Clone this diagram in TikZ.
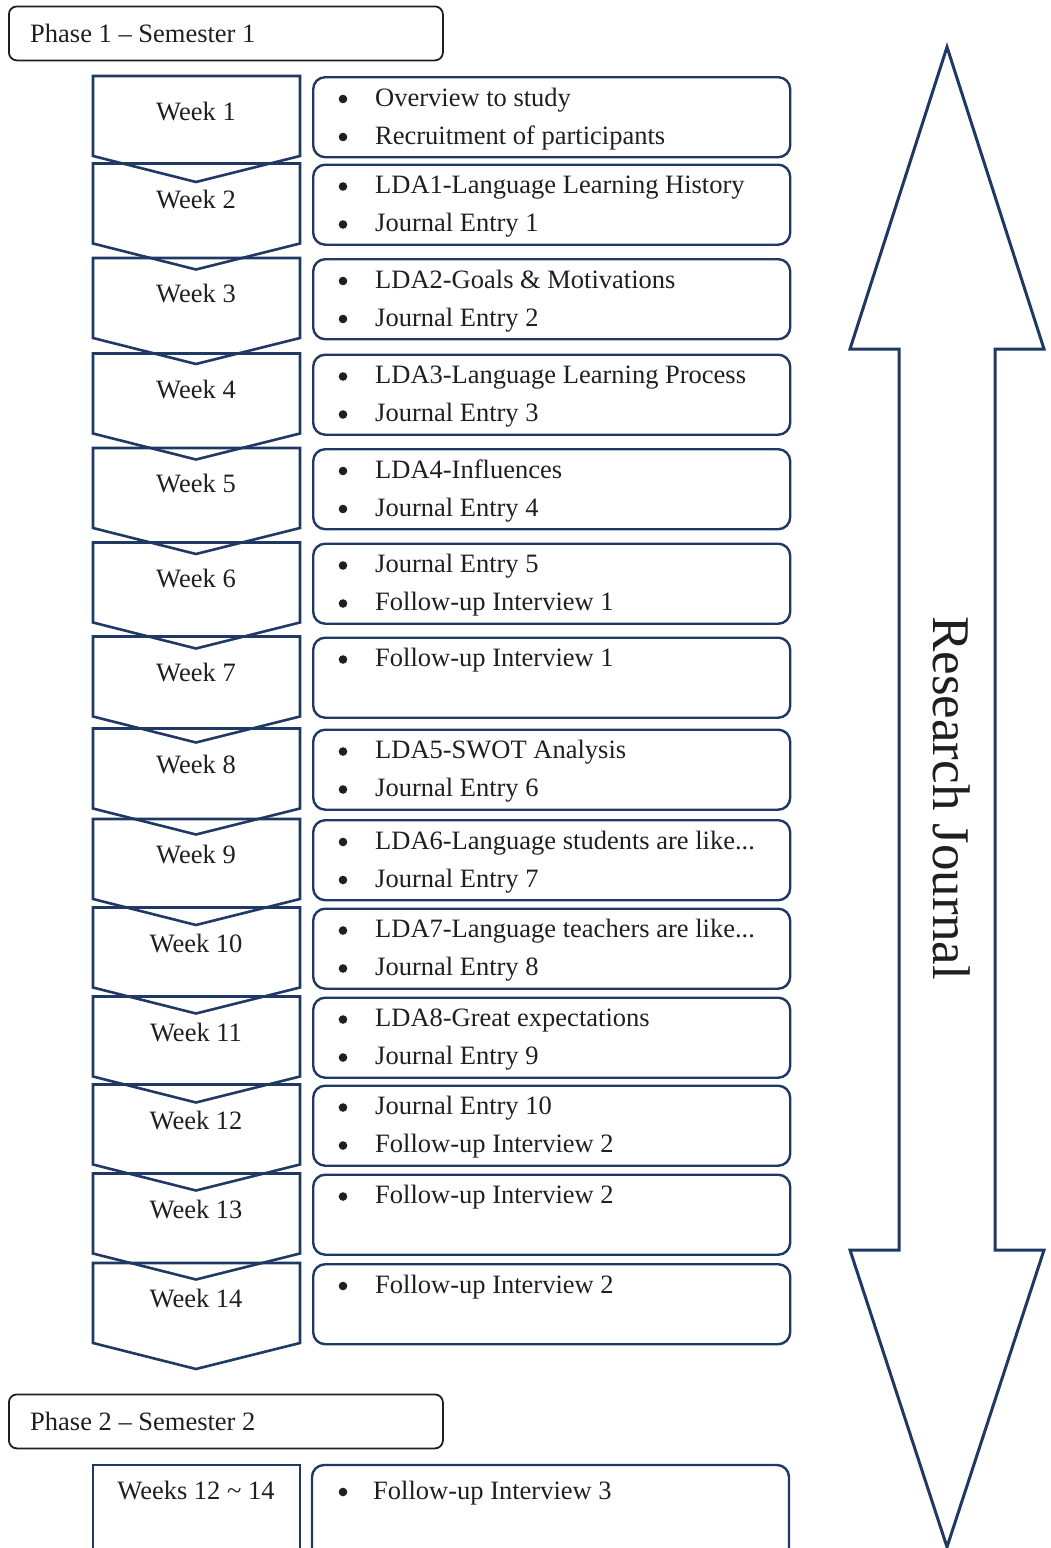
\documentclass[tikz,border=0pt]{standalone}
\usepackage{fontspec}
\setmainfont{Liberation Serif}
\definecolor{navy}{RGB}{31,56,100}
\definecolor{ink}{RGB}{34,30,31}
\newcommand\weekrow[5]{%
  \draw[chev] (93,#2) -- (300,#2) -- (300,{#2+80}) -- (196,{#2+106}) -- (93,{#2+80}) -- cycle;
  \node[tbox, anchor=north west] (box#1) at (312,#2) {};
  \node[txt, anchor=base] (wk#1) at (196,{#2+44.5}) {#3};
  \fill[ink] (343,{#2+23}) circle (4.3);
  \node[txt, anchor=base west] (la#1) at (375,{#2+30}) {#4};
  \ifx\relax#5\relax\else
    \fill[ink] (343,{#2+61}) circle (4.3);
    \node[txt, anchor=base west] (lb#1) at (375,{#2+68}) {#5};
  \fi}
\begin{document}
\begin{tikzpicture}[x=1pt,y=-1pt,
  chev/.style={draw=navy,line width=2.6pt,line join=miter},
  tbox/.style={draw=navy,line width=2.4pt,rounded corners=12pt,minimum width=477pt,minimum height=80pt,inner sep=0pt},
  pbox/.style={draw=ink,line width=1.8pt,rounded corners=8pt,minimum width=434pt,minimum height=54pt,inner sep=0pt},
  txt/.style={font=\fontsize{26.5}{31}\selectfont,text=ink,inner sep=0pt},
  bigtxt/.style={font=\fontsize{53}{60}\selectfont,text=ink,inner sep=0pt},
  arrowshape/.style={draw=navy,line width=3pt,line join=miter}]
\useasboundingbox (0,0) rectangle (1051,1548);

% Phase 1 header
\node[pbox, anchor=north west] (ph1) at (8,5.5) {};
\node[txt, anchor=base west] (ph1t) at (30,42.5) {Phase 1 – Semester 1};

\weekrow{1}{76}{Week 1}{Overview to study}{Recruitment of participants}
\weekrow{2}{163.5}{Week 2}{LDA1-Language Learning History}{Journal Entry 1}
\weekrow{3}{258}{Week 3}{LDA2-Goals \& Motivations}{Journal Entry 2}
\weekrow{4}{353.5}{Week 4}{LDA3-Language Learning Process}{Journal Entry 3}
\weekrow{5}{448}{Week 5}{LDA4-Influences}{Journal Entry 4}
\weekrow{6}{542.5}{Week 6}{Journal Entry 5}{Follow-up Interview 1}
\weekrow{7}{636.5}{Week 7}{Follow-up Interview 1}{}
\weekrow{8}{728.5}{Week 8}{LDA5-SWOT Analysis}{Journal Entry 6}
\weekrow{9}{819}{Week 9}{LDA6-Language students are like...}{Journal Entry 7}
\weekrow{10}{907.5}{Week 10}{LDA7-Language teachers are like...}{Journal Entry 8}
\weekrow{11}{996.5}{Week 11}{LDA8-Great expectations}{Journal Entry 9}
\weekrow{12}{1084.5}{Week 12}{Journal Entry 10}{Follow-up Interview 2}
\weekrow{13}{1173.5}{Week 13}{Follow-up Interview 2}{}
\weekrow{14}{1263}{Week 14}{Follow-up Interview 2}{}

% Phase 2 header
\node[pbox, anchor=north west] (ph2) at (8,1393.5) {};
\node[txt, anchor=base west] (ph2t) at (30,1430) {Phase 2 – Semester 2};

% Phase 2 row (runs off the bottom edge)
\draw[chev] (93,1580) -- (93,1465) -- (300,1465) -- (300,1580);
\node[txt, anchor=base] (wk15) at (196,1499) {Weeks 12 \textasciitilde{} 14};
\draw[navy,line width=2.4pt,rounded corners=12pt] (312,1580) -- (312,1465) -- (789,1465) -- (789,1580);
\fill[ink] (343,1492) circle (4.3);
\node[txt, anchor=base west] (la15) at (373,1499) {Follow-up Interview 3};

% Research Journal double arrow
\draw[arrowshape] (947,47) -- (1044,349) -- (995,349) -- (995,1250) -- (1044,1250)
  -- (947,1547) -- (850,1250) -- (899,1250) -- (899,349) -- (850,349) -- cycle;
\node[bigtxt, rotate=-90, anchor=base] (rj) at (933,798) {Research Journal};
\end{tikzpicture}
\end{document}
